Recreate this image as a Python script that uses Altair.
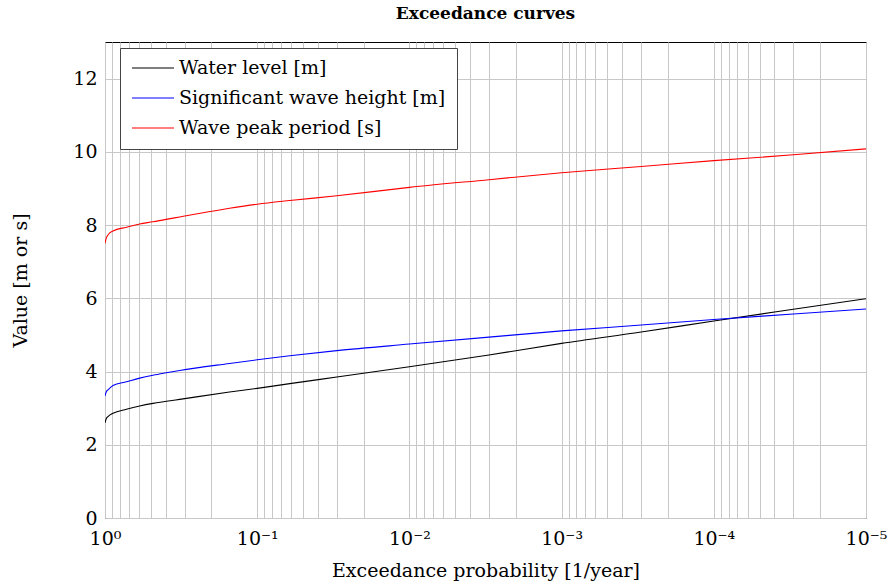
import altair as alt
import pandas as pd

# Exceedance probability [1/year]
prob = [1.0, 0.98, 0.956, 0.886, 0.723, 0.592, 0.484, 0.405, 0.323, 0.152, 0.1,
        0.0611, 0.03, 0.01, 0.003, 0.001, 3e-4, 1e-4, 3e-5, 1e-5]
water_level = [2.60, 2.72, 2.77, 2.86, 2.97, 3.06, 3.13, 3.18, 3.24, 3.44, 3.54,
               3.67, 3.85, 4.13, 4.45, 4.77, 5.08, 5.38, 5.70, 5.99]
wave_height = [3.33, 3.45, 3.50, 3.62, 3.72, 3.82, 3.90, 3.96, 4.03, 4.22, 4.32,
               4.43, 4.57, 4.75, 4.94, 5.11, 5.27, 5.42, 5.57, 5.71]
peak_period = [7.50, 7.65, 7.73, 7.84, 7.94, 8.03, 8.09, 8.15, 8.22, 8.46, 8.57,
               8.67, 8.80, 9.03, 9.24, 9.43, 9.60, 9.76, 9.92, 10.08]

series_names = ["Water level [m]", "Significant wave height [m]", "Wave peak period [s]"]
series_colors = ["#000000", "#0000ff", "#ff0000"]

major_ticks = [1.0, 1e-1, 1e-2, 1e-3, 1e-4, 1e-5]
major_labels = ["10⁰", "10⁻¹", "10⁻²", "10⁻³", "10⁻⁴", "10⁻⁵"]
minor_ticks = [k * 10.0 ** (-d) for d in range(1, 6) for k in range(2, 10)]
y_ticks = [0, 2, 4, 6, 8, 10, 12]

rows = []
for name, vals in zip(series_names, [water_level, wave_height, peak_period]):
    for p, v in zip(prob, vals):
        rows.append({"prob": p, "value": v, "series": name})
df = pd.DataFrame(rows)

label_expr = ""
for m, lab in zip(major_ticks, major_labels):
    label_expr += f"abs(datum.value - {m}) < {m * 0.01} ? '{lab}' : "
label_expr += "''"

FONT = "DejaVu Serif"

chart = alt.Chart(df).mark_line(strokeWidth=1.1, clip=True, interpolate="monotone").encode(
    x=alt.X("prob:Q",
            scale=alt.Scale(type="log", domain=[1e-5, 1], reverse=True, nice=False),
            axis=alt.Axis(values=major_ticks + minor_ticks, labelExpr=label_expr,
                          title="Exceedance probability [1/year]", grid=True,
                          ticks=False, domain=False, labelOverlap=False, labelFlush=False,
                          labelPadding=11, titlePadding=13)),
    y=alt.Y("value:Q", scale=alt.Scale(domain=[0, 13], nice=False),
            axis=alt.Axis(values=y_ticks, title="Value [m or s]", grid=True,
                          ticks=False, domain=False, labelPadding=8, titlePadding=42)),
    color=alt.Color("series:N",
                    scale=alt.Scale(domain=series_names, range=series_colors),
                    legend=alt.Legend(title=None, orient="none", legendX=15, legendY=6)),
    order=alt.Order("prob:Q", sort="descending"),
).properties(
    width=761, height=476,
    title=alt.Title("Exceedance curves", font=FONT, fontSize=17, fontWeight="bold",
                    offset=19, color="black"),
    autosize=alt.AutoSizeParams(type="none"),
    padding={"left": 105, "top": 42, "right": 25, "bottom": 70},
).configure_view(
    stroke="black", strokeWidth=1
).configure_axis(
    labelFont=FONT, titleFont=FONT, labelFontSize=19, titleFontSize=19,
    labelColor="black", titleColor="black", titleFontWeight="normal",
    gridColor="#c8c8c8", gridWidth=1, gridOpacity=1
).configure_legend(
    labelFont=FONT, labelFontSize=19, labelColor="black", labelLimit=500,
    symbolSize=1764, symbolStrokeWidth=1.1, clipHeight=18,
    strokeColor="#444444", fillColor="white", padding=11, rowPadding=11,
    labelOffset=4, offset=0
)

chart.save("out.html", embed_options={"renderer": "svg", "actions": False})
